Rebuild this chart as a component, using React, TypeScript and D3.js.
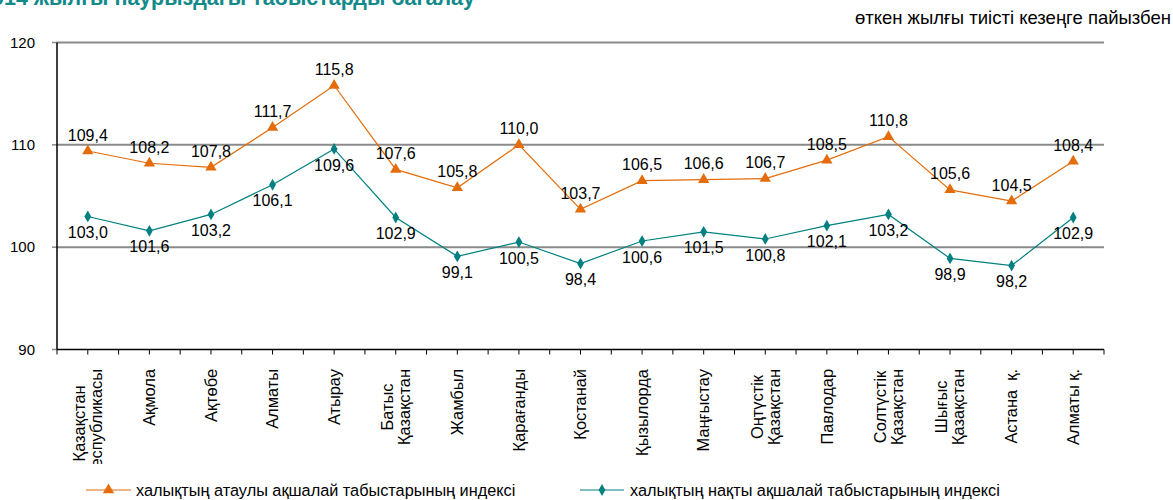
import React, { useEffect, useRef } from "react";
import * as d3 from "d3";

const categories: string[] = [
  "Қазақстан\nРеспубликасы",
  "Ақмола",
  "Ақтөбе",
  "Алматы",
  "Атырау",
  "Батыс\nҚазақстан",
  "Жамбыл",
  "Қарағанды",
  "Қостанай",
  "Қызылорда",
  "Маңғыстау",
  "Оңтүстік\nҚазақстан",
  "Павлодар",
  "Солтүстік\nҚазақстан",
  "Шығыс\nҚазақстан",
  "Астана  қ.",
  "Алматы қ.",
];

const nominalIndex: number[] = [
  109.4, 108.2, 107.8, 111.7, 115.8, 107.6, 105.8, 110.0, 103.7, 106.5, 106.6,
  106.7, 108.5, 110.8, 105.6, 104.5, 108.4,
];

const realIndex: number[] = [
  103.0, 101.6, 103.2, 106.1, 109.6, 102.9, 99.1, 100.5, 98.4, 100.6, 101.5,
  100.8, 102.1, 103.2, 98.9, 98.2, 102.9,
];

const yTicks: number[] = [90, 100, 110, 120];
const gridValues: number[] = [100, 110, 120];

const seriesNames: string[] = [
  "халықтың атаулы ақшалай табыстарының индексі",
  "халықтың нақты ақшалай табыстарының индексі",
];

const titleText = "Халықтың 2014 жылғы наурыздағы табыстарды бағалау";
const unitText = "өткен жылғы тиісті кезеңге пайызбен";

const W = 1173;
const H = 500;
const FONT = "'Liberation Sans', Arial, sans-serif";
const ORANGE = "#E46C0A";
const TEAL = "#008080";

const fmt = (v: number) => v.toFixed(1).replace(".", ",");

export default function App() {
  const ref = useRef<SVGSVGElement | null>(null);

  useEffect(() => {
    const svg = d3.select(ref.current);
    svg.selectAll("*").remove();

    const left = 57;
    const right = 1104;
    const top = 42.5;
    const bottom = 349.5;

    const x = d3
      .scaleBand<number>()
      .domain(d3.range(categories.length))
      .range([left, right])
      .padding(0);
    const cx = (i: number) => (x(i) as number) + x.bandwidth() / 2;
    const y = d3.scaleLinear().domain([90, 120]).range([bottom, top]);

    // title (cut off at top, as in the reference)
    svg
      .append("text")
      .attr("x", 475)
      .attr("y", 5)
      .attr("text-anchor", "end")
      .attr("font-family", FONT)
      .attr("font-weight", "bold")
      .attr("font-size", 21.5)
      .attr("fill", "#138A8A")
      .text(titleText);

    svg
      .append("text")
      .attr("x", 1171)
      .attr("y", 24)
      .attr("text-anchor", "end")
      .attr("font-family", FONT)
      .attr("font-size", 18.5)
      .attr("fill", "#000")
      .text(unitText);

    // gridlines
    svg
      .append("g")
      .selectAll("line")
      .data(gridValues)
      .join("line")
      .attr("x1", left)
      .attr("x2", right)
      .attr("y1", (d) => y(d))
      .attr("y2", (d) => y(d))
      .attr("stroke", "#8a8a8a")
      .attr("stroke-width", 2);

    // y ticks & labels
    const yg = svg.append("g");
    yg.selectAll("line")
      .data(yTicks)
      .join("line")
      .attr("x1", left - 5)
      .attr("x2", left)
      .attr("y1", (d) => y(d))
      .attr("y2", (d) => y(d))
      .attr("stroke", "#8a8a8a")
      .attr("stroke-width", 1.5);
    yg.selectAll("text")
      .data(yTicks)
      .join("text")
      .attr("x", 35)
      .attr("y", (d) => y(d))
      .attr("dy", "0.35em")
      .attr("text-anchor", "end")
      .attr("font-family", FONT)
      .attr("font-size", 15)
      .text((d) => String(d));

    // axes lines
    svg
      .append("line")
      .attr("x1", left)
      .attr("x2", left)
      .attr("y1", top)
      .attr("y2", bottom)
      .attr("stroke", "#000")
      .attr("stroke-width", 1.5);
    svg
      .append("line")
      .attr("x1", left)
      .attr("x2", right)
      .attr("y1", bottom)
      .attr("y2", bottom)
      .attr("stroke", "#000")
      .attr("stroke-width", 1.5);

    // x ticks at band edges and centers
    const tickPos: number[] = [];
    categories.forEach((_, i) => {
      tickPos.push(x(i) as number);
      tickPos.push(cx(i));
    });
    tickPos.push(right);
    svg
      .append("g")
      .selectAll("line")
      .data(tickPos)
      .join("line")
      .attr("x1", (d) => d)
      .attr("x2", (d) => d)
      .attr("y1", bottom)
      .attr("y2", bottom + 5)
      .attr("stroke", "#000")
      .attr("stroke-width", 1);

    // x labels
    const clipId = "xlabclip";
    svg
      .append("clipPath")
      .attr("id", clipId)
      .append("rect")
      .attr("x", 0)
      .attr("y", 355)
      .attr("width", W)
      .attr("height", 109);
    const xl = svg.append("g").attr("clip-path", `url(#${clipId})`);
    const lineGap = 17;
    categories.forEach((c, i) => {
      const lines = c.split("\n");
      const g = xl
        .append("g")
        .attr("transform", `translate(${cx(i)},369) rotate(-90)`);
      const texts = lines.map((ln, k) =>
        g
          .append("text")
          .attr("x", 0)
          .attr("y", (k - (lines.length - 1) / 2) * lineGap)
          .attr("dy", "0.35em")
          .attr("font-family", FONT)
          .attr("font-size", 16.4)
          .style("white-space", "pre")
          .text(ln)
      );
      const lens = texts.map((t) => (t.node() as SVGTextElement).getComputedTextLength());
      const maxLen = Math.max(...lens);
      texts.forEach((t) => {
        t.attr("x", -maxLen / 2).attr("text-anchor", "middle");
      });
    });

    // series
    const lineGen = d3
      .line<number>()
      .x((_, i) => cx(i))
      .y((d) => y(d));

    const series = [
      { data: nominalIndex, color: ORANGE, symbol: d3.symbolTriangle, size: 55, labelDy: -16 },
      { data: realIndex, color: TEAL, symbol: d3.symbolDiamond, size: 40, labelDy: 16 },
    ];

    series.forEach((s) => {
      svg
        .append("path")
        .attr("d", lineGen(s.data) as string)
        .attr("fill", "none")
        .attr("stroke", s.color)
        .attr("stroke-width", 1.2);
      svg
        .append("g")
        .selectAll("path")
        .data(s.data)
        .join("path")
        .attr("transform", (d, i) => `translate(${cx(i)},${y(d)})`)
        .attr("d", d3.symbol().type(s.symbol).size(s.size)() as string)
        .attr("fill", s.color);
      svg
        .append("g")
        .selectAll("text")
        .data(s.data)
        .join("text")
        .attr("x", (_, i) => cx(i))
        .attr("y", (d) => y(d) + s.labelDy)
        .attr("dy", "0.35em")
        .attr("text-anchor", "middle")
        .attr("font-family", FONT)
        .attr("font-size", 16)
        .text((d) => fmt(d));
    });

    // legend
    const legendY = 490;
    const legendItems = [
      { x0: 86, x1: 131, tx: 136, color: ORANGE, symbol: d3.symbolTriangle, size: 55 },
      { x0: 580, x1: 624, tx: 630, color: TEAL, symbol: d3.symbolDiamond, size: 40 },
    ];
    legendItems.forEach((it, k) => {
      svg
        .append("line")
        .attr("x1", it.x0)
        .attr("x2", it.x1)
        .attr("y1", legendY)
        .attr("y2", legendY)
        .attr("stroke", it.color)
        .attr("stroke-width", 1.2);
      svg
        .append("path")
        .attr("transform", `translate(${(it.x0 + it.x1) / 2},${legendY})`)
        .attr("d", d3.symbol().type(it.symbol).size(it.size)() as string)
        .attr("fill", it.color);
      svg
        .append("text")
        .attr("x", it.tx)
        .attr("y", legendY)
        .attr("dy", "0.35em")
        .attr("font-family", FONT)
        .attr("font-size", 16.3)
        .text(seriesNames[k]);
    });
  }, []);

  return (
    <svg
      ref={ref}
      width={W}
      height={H}
      style={{ position: "absolute", left: 0, top: 0, background: "#fff" }}
    />
  );
}
